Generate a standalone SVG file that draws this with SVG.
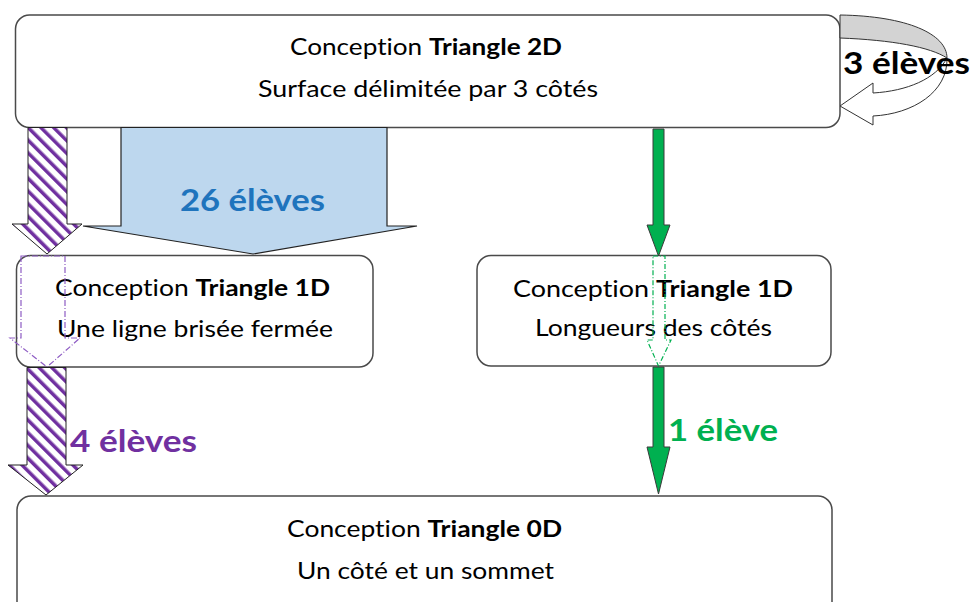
<svg xmlns="http://www.w3.org/2000/svg" width="971" height="602" viewBox="0 0 971 602">
<defs>
<pattern id="hatch" patternUnits="userSpaceOnUse" width="9" height="9" patternTransform="rotate(-45)">
<rect width="9" height="9" fill="#fff"/>
<rect width="3.5" height="9" fill="#7030A0"/>
</pattern>
<style>
.box{fill:#fff;stroke:#4a4a4a;stroke-width:1.5}
.t{font-family:Lato,"Liberation Sans",sans-serif;font-size:23px;fill:#000;font-variant-ligatures:none;font-feature-settings:"liga" 0,"clig" 0}
.b{font-weight:bold}
.lab{font-family:Lato,"Liberation Sans",sans-serif;font-size:30px;font-weight:bold;font-variant-ligatures:none}
.hat{fill:url(#hatch);stroke:#222;stroke-width:1}
.grn{fill:#00B050;stroke:#3a3a3a;stroke-width:1}
.gdash{fill:none;stroke:#00B050;stroke-width:1.2;stroke-dasharray:5 2 1 2}
.pdash{fill:none;stroke:#8E5CC4;stroke-width:1.2;stroke-dasharray:6 2 1 2}
</style>
</defs>
<rect x="0" y="0" width="971" height="602" fill="#fff"/>

<g id="node-2d">
<rect class="box" x="15.5" y="15" width="824.5" height="112.5" rx="14"/>
<text class="t" x="290" y="55" textLength="272" lengthAdjust="spacingAndGlyphs">Conception <tspan class="b">Triangle 2D</tspan></text>
<text class="t" x="258" y="97" textLength="340" lengthAdjust="spacingAndGlyphs">Surface délimitée par 3 côtés</text>
</g>

<g id="node-1d-left">
<rect class="box" x="16.5" y="255.5" width="356.5" height="111.5" rx="14"/>
<text class="t" x="55" y="296" textLength="275" lengthAdjust="spacingAndGlyphs">Conception <tspan class="b">Triangle 1D</tspan></text>
<text class="t" x="57" y="337" textLength="276" lengthAdjust="spacingAndGlyphs">Une ligne brisée fermée</text>
</g>

<g id="node-1d-right">
<rect class="box" x="477" y="255.5" width="354" height="110.5" rx="14"/>
<text class="t" x="513" y="297" textLength="280" lengthAdjust="spacingAndGlyphs">Conception  <tspan class="b">Triangle 1D</tspan></text>
<text class="t" x="535" y="336" textLength="237" lengthAdjust="spacingAndGlyphs">Longueurs des côtés</text>
</g>

<g id="node-0d">
<rect class="box" x="17" y="496" width="815" height="130" rx="14"/>
<text class="t" x="287" y="537" textLength="275" lengthAdjust="spacingAndGlyphs">Conception <tspan class="b">Triangle 0D</tspan></text>
<text class="t" x="297" y="579" textLength="257" lengthAdjust="spacingAndGlyphs">Un côté et un sommet</text>
</g>

<g id="connectors">
<path d="M840,15 C907,16 947,34 947,58 C930,47 892,40 840,38 Z" fill="#D3D3D3" stroke="#333" stroke-width="1"/>
<path d="M947,58 C948,92 913,114 873,116 L873,125 L840,106 L873,83 L873,93 C907,91 936,79 947,58 Z" fill="#fff" stroke="#333" stroke-width="1"/>
<path d="M121,127.5 L387,127.5 L387,226 L417,226 L253,254 L83,226 L121,226 Z" fill="#BDD7EE" stroke="#222" stroke-width="1.2"/>
<path class="hat" d="M28,127.5 L67,127.5 L67,224 L82,224 L47,254 L12,224 L28,224 Z"/>
<path class="pdash" d="M21,256 L65,256 L65,338 L80,338 L47,367 L10,338 L21,338 Z"/>
<path class="hat" d="M27,367.5 L66,367.5 L66,465 L83,465 L46,495 L8,465 L27,465 Z"/>
<path class="grn" d="M653,129 L664,129 L664,225 L670,225 L658.5,256 L647,225 L653,225 Z"/>
<path class="gdash" d="M653,256 L665,256 L665,340 L671,340 L658.5,366 L647,340 L653,340 Z"/>
<path class="grn" d="M653,367 L664,367 L664,447 L670,447 L658.5,494 L647,447 L653,447 Z"/>

<text class="lab" x="843" y="74" textLength="127" lengthAdjust="spacingAndGlyphs" fill="#000">3 élèves</text>
<text class="lab" x="180" y="211" textLength="145" lengthAdjust="spacingAndGlyphs" fill="#1F74BD">26 élèves</text>
<text class="lab" x="70" y="452" textLength="127" lengthAdjust="spacingAndGlyphs" fill="#7030A0">4 élèves</text>
<text class="lab" x="668" y="441" textLength="110" lengthAdjust="spacingAndGlyphs" fill="#00B050">1 élève</text>
</g>
</svg>
